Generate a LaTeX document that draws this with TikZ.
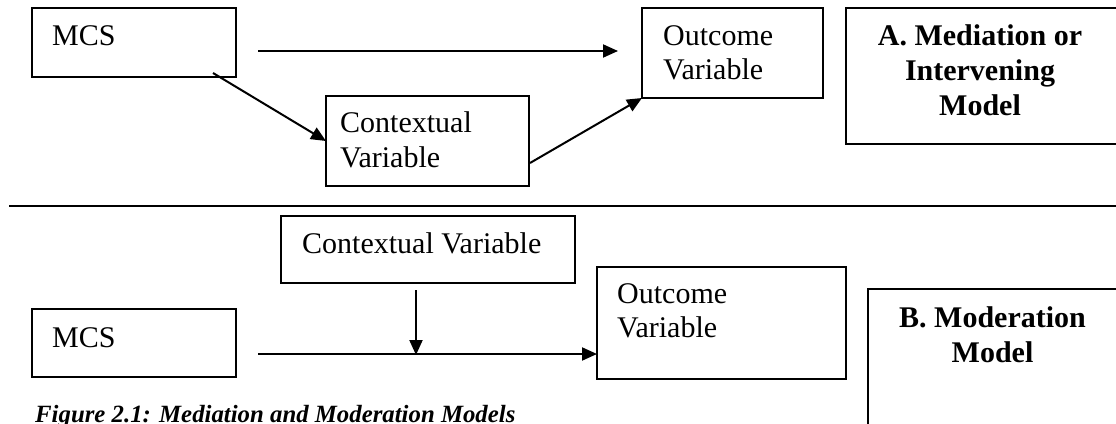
\documentclass[tikz,border=0pt]{standalone}
\usepackage{fontspec}
\setmainfont{Liberation Serif}
\usetikzlibrary{arrows.meta}
\begin{document}
\begin{tikzpicture}[x=1pt,y=-1pt,
  box/.style={draw, rectangle, line width=2pt, inner sep=0pt, outer sep=0pt, anchor=north west},
  lbl/.style={inner sep=0pt, font=\fontsize{30}{34.5}\selectfont, align=left, anchor=base west},
  ttl/.style={inner sep=0pt, font=\fontsize{30}{35}\selectfont\bfseries, align=center, anchor=base},
  link/.style={line width=2pt, -{Triangle[length=15pt,width=13pt]}},
  rule/.style={line width=2pt}]
\path[use as bounding box] (0,0) rectangle (1116,423);
\clip (0,0) rectangle (1116,423);

% ---- A. Mediation model ----
% multi-line labels are placed by the baseline of their last line
\node[box, minimum width=204pt, minimum height=69pt] (mcsA) at (32,8) {};
\node[lbl] (mcsAt) at (52,45) {MCS};
\node[box, minimum width=203pt, minimum height=90pt] (ctxA) at (326,96) {};
\node[lbl] (ctxAt) at (340,167) {Contextual\\Variable};
\node[box, minimum width=181pt, minimum height=90pt] (outA) at (642,8) {};
\node[lbl] (outAt) at (663,79.5) {Outcome\\Variable};
\node[box, minimum width=290pt, minimum height=136pt] (tagA) at (846,8) {};
\node[ttl] (tagAt) at (980,115) {A. Mediation or\\Intervening\\Model};

\coordinate (dirS) at (258,51);
\coordinate (dirE) at (618,51);
\coordinate (medS) at (213,73);
\coordinate (medO) at (530,163);
\draw[link] (dirS) -- (dirE);
\draw[link] (medS) -- (ctxA.west);
\draw[link] (medO) -- (outA.south west);

% ---- separator ----
\coordinate (sepL) at (9,206);
\coordinate (sepR) at (1116,206);
\draw[rule] (sepL) -- (sepR);

% ---- B. Moderation model ----
\node[box, minimum width=294pt, minimum height=67pt] (ctxB) at (281,216) {};
\node[lbl] (ctxBt) at (302,253) {Contextual Variable};
\node[box, minimum width=204pt, minimum height=68pt] (mcsB) at (32,309) {};
\node[lbl] (mcsBt) at (52,347) {MCS};
\node[box, minimum width=249pt, minimum height=112pt] (outB) at (597,267) {};
\node[lbl] (outBt) at (617,337.5) {Outcome\\Variable};
\node[box, minimum width=268pt, minimum height=160pt] (tagB) at (868,289) {};
\node[ttl] (tagBt) at (992.5,362) {B. Moderation\\Model};

\coordinate (modS) at (258,354);
\coordinate (vS) at (416,290);
\coordinate (vE) at (416,355);
\draw[link] (modS) -- (modS -| outB.west);
\draw[link] (vS) -- (vE);

% ---- caption ----
\node[inner sep=0pt, anchor=base west, font=\fontsize{24.8}{28}\selectfont\bfseries\itshape] (cap) at (35,422) {Figure 2.1: Mediation and Moderation Models};
\end{tikzpicture}
\end{document}
